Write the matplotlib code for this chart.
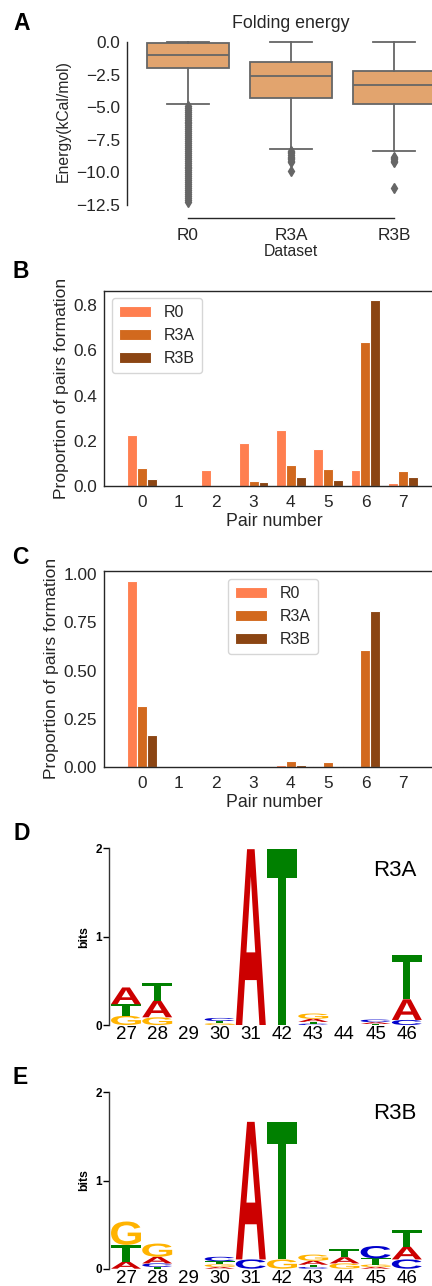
import numpy as np
import matplotlib
matplotlib.use("Agg")
import matplotlib.pyplot as plt
from matplotlib.textpath import TextPath
from matplotlib.patches import PathPatch
from matplotlib.font_manager import FontProperties
from matplotlib.transforms import Affine2D

plt.rcParams['font.family'] = ['Liberation Sans', 'DejaVu Sans']
plt.rcParams['axes.unicode_minus'] = True
TXT = '#262626'

# ---- panel A: folding energy boxplot
datasets = ['R0', 'R3A', 'R3B']
box_q1 = [-2.0, -4.27, -4.78]
box_med = [-1.0, -2.58, -3.27]
box_q3 = [-0.1, -1.56, -2.2]
whis_lo = [-4.78, -8.18, -8.36]
whis_hi = [0.0, 0.0, 0.0]
fliers_r0 = [-4.9, -5.05, -5.2, -5.35, -5.5, -5.65, -5.8, -5.95, -6.1, -6.25,
             -6.4, -6.55, -6.7, -6.85, -7.0, -7.15, -7.3, -7.45, -7.6, -7.75,
             -7.9, -8.05, -8.2, -8.35, -8.5, -8.65, -8.8, -8.95, -9.1, -9.25,
             -9.4, -9.55, -9.7, -9.85, -10.0, -10.15, -10.3, -10.45, -10.6,
             -10.75, -10.9, -11.05, -11.2, -11.35, -11.5, -11.65, -11.8,
             -11.95, -12.1, -12.25]
fliers_r3a = [-8.35, -8.45, -8.55, -8.65, -8.8, -8.9, -9.0, -9.1, -9.2, -9.9]
fliers_r3b = [-8.8, -8.9, -9.0, -9.1, -9.2, -11.2]

# ---- panels B, C: proportion of pairs formation
pairs = [0, 1, 2, 3, 4, 5, 6, 7]
b_r0 = [0.225, 0.0, 0.071, 0.19, 0.249, 0.165, 0.072, 0.016]
b_r3a = [0.081, 0.0, 0.0, 0.024, 0.096, 0.076, 0.638, 0.069]
b_r3b = [0.032, 0.0, 0.006, 0.019, 0.043, 0.028, 0.821, 0.040]
c_r0 = [0.965, 0.0, 0.0, 0.003, 0.009, 0.003, 0.0, 0.0]
c_r3a = [0.317, 0.0, 0.0, 0.002, 0.029, 0.024, 0.609, 0.0]
c_r3b = [0.164, 0.0, 0.0, 0.001, 0.009, 0.004, 0.81, 0.0]
bar_colors = ['coral', 'chocolate', 'saddlebrown']

# ---- panels D, E: sequence logos (bits per letter)
positions = ['27', '28', '29', '30', '31', '42', '43', '44', '45', '46']
r3a_A = [0.19, 0.19, 0.0, 0.0, 1.99, 0.0, 0.035, 0.0, 0.02, 0.234]
r3a_C = [0.0, 0.0, 0.0, 0.035, 0.0, 0.0, 0.015, 0.0, 0.03, 0.057]
r3a_G = [0.105, 0.087, 0.0, 0.02, 0.0, 0.0, 0.06, 0.0, 0.0, 0.0]
r3a_T = [0.13, 0.196, 0.0, 0.025, 0.0, 1.99, 0.02, 0.0, 0.012, 0.50]
r3b_A = [0.08, 0.075, 0.0, 0.02, 1.56, 0.0, 0.045, 0.07, 0.02, 0.145]
r3b_C = [0.0, 0.04, 0.0, 0.05, 0.105, 0.0, 0.02, 0.0, 0.14, 0.105]
r3b_G = [0.265, 0.15, 0.0, 0.03, 0.0, 0.105, 0.07, 0.06, 0.027, 0.0]
r3b_T = [0.19, 0.02, 0.0, 0.035, 0.0, 1.56, 0.025, 0.09, 0.07, 0.19]
letter_colors = {'A': '#CC0000', 'C': '#0000CC', 'G': '#FFB300', 'T': '#008000'}

fig = plt.figure(figsize=(4.32, 12.86), dpi=100)
H = 1286.0
W = 432.0


def px_axes(left, top, right, bottom):
    return fig.add_axes([left / W, 1 - bottom / H, (right - left) / W, (bottom - top) / H])


# ---------------- A
axA = px_axes(136.5, 33.9, 445.5, 208.9)
stats = []
fl = [fliers_r0, fliers_r3a, fliers_r3b]
for i in range(3):
    stats.append(dict(med=box_med[i], q1=box_q1[i], q3=box_q3[i],
                      whislo=whis_lo[i], whishi=whis_hi[i], fliers=fl[i]))
gray = '#666666'
axA.bxp(stats, positions=[0, 1, 2], widths=0.8, patch_artist=True,
        boxprops=dict(facecolor='#E2A46E', edgecolor=gray, linewidth=1.3),
        medianprops=dict(color=gray, linewidth=1.3),
        whiskerprops=dict(color=gray, linewidth=1.3),
        capprops=dict(color=gray, linewidth=1.3),
        flierprops=dict(marker='d', markerfacecolor=gray, markeredgecolor=gray,
                        markersize=5))
axA.set_xlim(-0.5, 2.5)
axA.set_ylim(-12.8, 0.62)
axA.set_yticks([0.0, -2.5, -5.0, -7.5, -10.0, -12.5])
axA.set_xticks([0, 1, 2])
axA.set_xticklabels(datasets)
for s in ['top', 'right']:
    axA.spines[s].set_visible(False)
axA.spines['left'].set_position(('outward', 6.8))
axA.spines['bottom'].set_position(('outward', 6.5))
axA.spines['left'].set_bounds(-12.5, 0.0)
axA.spines['bottom'].set_bounds(0, 2)
for s in ['left', 'bottom']:
    axA.spines[s].set_color(TXT)
    axA.spines[s].set_linewidth(1.0)
axA.tick_params(axis='y', length=0, labelsize=12.4, colors=TXT, pad=5)
axA.tick_params(axis='x', length=0, labelsize=12.4, colors=TXT, pad=7)
axA.set_ylabel('Energy(kCal/mol)', fontsize=11.3, color=TXT, labelpad=4)
axA.set_xlabel('Dataset', fontsize=11.3, color=TXT, labelpad=1)
axA.set_title('Folding energy', fontsize=12.8, color=TXT, pad=4)


# ---------------- B, C
def bar_panel(ax, series, ylim_top, yticks, ytl, legend_anchor):
    off = 0.8 / 3
    labels = ['R0', 'R3A', 'R3B']
    x = np.array(pairs)
    for k, vals in enumerate(series):
        ax.bar(x + (k - 1) * off, vals, width=off, color=bar_colors[k],
               edgecolor='white', linewidth=0.8, label=labels[k])
    ax.set_xlim(-1.01, -1.01 + (445 - 104) / 37.3)
    ax.set_ylim(0, ylim_top)
    ax.set_xticks(pairs)
    ax.set_yticks(yticks)
    ax.set_yticklabels(ytl)
    ax.tick_params(axis='x', length=0, labelsize=12.4, colors=TXT, pad=6.5)
    ax.tick_params(axis='y', length=0, labelsize=12.4, colors=TXT, pad=5)
    for s in ax.spines.values():
        s.set_color(TXT)
        s.set_linewidth(1.0)
    ax.set_ylabel('Proportion of pairs formation', fontsize=12.6, color=TXT, labelpad=3)
    ax.set_xlabel('Pair number', fontsize=12.8, color=TXT, labelpad=2)
    leg = ax.legend(loc='upper left', bbox_to_anchor=legend_anchor, fontsize=11.5,
                    frameon=True, handlelength=2.0, borderpad=0.45,
                    labelspacing=0.5, handletextpad=0.8, borderaxespad=0)
    for t in leg.get_texts():
        t.set_color(TXT)
    leg.get_frame().set_edgecolor('#cccccc')


axB = px_axes(104, 290.7, 445, 486.3)
bar_panel(axB, [b_r0, b_r3a, b_r3b], 0.863, [0.0, 0.2, 0.4, 0.6, 0.8],
          ['0.0', '0.2', '0.4', '0.6', '0.8'], (0.023, 0.963))

axC = px_axes(104, 570.7, 445, 767)
bar_panel(axC, [c_r0, c_r3a, c_r3b], 1.018, [0.0, 0.25, 0.5, 0.75, 1.0],
          ['0.00', '0.25', '0.50', '0.75', '1.00'], (0.364, 0.958))

# ---------------- D, E
fp = FontProperties(family='Liberation Sans', weight='bold')


def draw_letter(ax, ch, x, y, w, h):
    tp = TextPath((0, 0), ch, size=1, prop=fp)
    bb = tp.get_extents()
    tr = Affine2D().translate(-bb.x0, -bb.y0).scale(w / bb.width, h / bb.height).translate(x - w / 2, y)
    ax.add_patch(PathPatch(tr.transform_path(tp), facecolor=letter_colors[ch],
                           edgecolor='none'))


def logo_panel(ax, cols, name):
    for i in range(len(positions)):
        stack = sorted([(cols[ch][i], ch) for ch in 'ACGT'], key=lambda t: t[0])
        y0 = 0.0
        for h, ch in stack:
            if h > 0.004:
                draw_letter(ax, ch, i, y0, 0.96, h)
            y0 += h
    ax.set_xlim(-0.545, 9.55)
    ax.set_ylim(0, 2)
    ax.set_xticks(range(len(positions)))
    ax.set_xticklabels(positions)
    ax.set_yticks([0, 1, 2])
    ax.tick_params(axis='x', length=0, labelsize=13.5, colors='black', pad=1)
    ax.tick_params(axis='y', length=4, width=1.0, labelsize=8.5, colors='black', pad=1)
    for lab in ax.get_yticklabels():
        lab.set_fontweight('bold')
    for s in ['top', 'right', 'bottom']:
        ax.spines[s].set_visible(False)
    ax.spines['left'].set_color('#333333')
    ax.spines['left'].set_linewidth(1.0)
    ax.set_ylabel('bits', fontsize=8.8, fontweight='bold', labelpad=4)
    ax.text(0.908, 0.877, name, transform=ax.transAxes, fontsize=16,
            ha='center', va='center')


axD = px_axes(109, 848.3, 424, 1025)
logo_panel(axD, {'A': r3a_A, 'C': r3a_C, 'G': r3a_G, 'T': r3a_T}, 'R3A')
axE = px_axes(109, 1092.3, 424, 1268.7)
logo_panel(axE, {'A': r3b_A, 'C': r3b_C, 'G': r3b_G, 'T': r3b_T}, 'R3B')

# panel letters
for lab, (x, y) in zip('ABCDE', [(22, 23), (21, 272), (20, 558), (22, 834), (20, 1078)]):
    fig.text(x / W, 1 - y / H, lab, fontsize=16.5, fontweight='bold',
             ha='center', va='center')

fig.savefig('out.png', dpi=100)
